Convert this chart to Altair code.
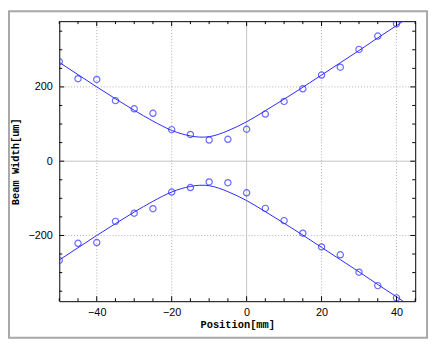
import altair as alt
import pandas as pd

# ---- data ----
positions = [-50, -45, -40, -35, -30, -25, -20, -15, -10, -5, 0, 5, 10, 15, 20, 25, 30, 35, 40, 45]
upper_width = [268, 222, 220, 163, 141, 129, 85, 72, 57, 59, 86, 127, 161, 195, 232, 253, 301, 337, 370, 385]
lower_width = [-267, -221, -219, -162, -140, -128, -83, -71, -56, -58, -85, -127, -160, -194, -231, -252, -299, -335, -368, -385]

fit_positions = [-50, -45, -40, -35, -30, -25, -20, -15, -10, -5, 0, 5, 10, 15, 20, 25, 30, 35, 40, 45]
fit_upper = [266, 233, 200, 168, 137, 108, 83, 68, 66, 82, 106, 136, 167, 199, 232, 265, 298, 332, 365, 399]
fit_lower = [-v for v in fit_upper]

x_tick_labels = [-40, -20, 0, 20, 40]
y_tick_labels = [-200, 0, 200]
x_grid = [-40, -20, 20, 40]
y_grid = [-200, 200]
x_minor = [-50, -45, -35, -30, -25, -15, -10, -5, 5, 10, 15, 25, 30, 35, 45]
y_minor = [-350, -300, -250, -150, -100, -50, 50, 100, 150, 250, 300, 350]

X_DOMAIN = [-50, 45]
Y_DOMAIN = [-377, 377]
W, H = 361, 284
BLUE = "#2a2aff"

pts = pd.DataFrame({
    "pos": positions * 2,
    "w": upper_width + lower_width,
    "s": ["u"] * len(positions) + ["l"] * len(positions),
})
fit = pd.DataFrame({
    "pos": fit_positions * 2,
    "w": fit_upper + fit_lower,
    "s": ["u"] * len(fit_positions) + ["l"] * len(fit_positions),
})

xs = alt.Scale(domain=X_DOMAIN, nice=False, zero=False)
ys = alt.Scale(domain=Y_DOMAIN, nice=False, zero=False)

x_enc = alt.X(
    "pos:Q", scale=xs,
    axis=alt.Axis(values=x_tick_labels, tickSize=0, domain=False, grid=False,
                  labelPadding=5, labelFont="Liberation Sans", labelFontSize=11,
                  labelColor="black", title="Position[mm]", titleFont="Liberation Mono",
                  titleFontSize=10.5, titleFontWeight=600, titleColor="black",
                  titlePadding=3),
)
y_enc = alt.Y(
    "w:Q", scale=ys,
    axis=alt.Axis(values=y_tick_labels, tickSize=0, domain=False, grid=False,
                  labelPadding=7, labelFont="Liberation Sans", labelFontSize=11,
                  labelColor="black", title="Beam Width[um]", titleFont="Liberation Mono",
                  titleFontSize=10.5, titleFontWeight=600, titleColor="black",
                  titlePadding=8),
)

base_pts = alt.Chart(pts)
points = base_pts.mark_point(shape="circle", filled=False, size=40, strokeWidth=1.2,
                             color=BLUE, clip=True).encode(x=x_enc, y=y_enc, detail="s:N")

lines = alt.Chart(fit).mark_line(color=BLUE, strokeWidth=1, interpolate="natural",
                                 clip=True).encode(
    x=alt.X("pos:Q", scale=xs), y=alt.Y("w:Q", scale=ys), detail="s:N")

gx = alt.Chart(pd.DataFrame({"v": x_grid})).mark_rule(
    color="#b0b0b0", strokeDash=[1, 2], strokeWidth=1).encode(x=alt.X("v:Q", scale=xs))
gy = alt.Chart(pd.DataFrame({"v": y_grid})).mark_rule(
    color="#b0b0b0", strokeDash=[1, 2], strokeWidth=1).encode(y=alt.Y("v:Q", scale=ys))
zx = alt.Chart(pd.DataFrame({"v": [0]})).mark_rule(
    color="#c4c4c4", strokeWidth=1).encode(x=alt.X("v:Q", scale=xs))
zy = alt.Chart(pd.DataFrame({"v": [0]})).mark_rule(
    color="#c4c4c4", strokeWidth=1).encode(y=alt.Y("v:Q", scale=ys))


def xticks(vals, a, b):
    return alt.Chart(pd.DataFrame({"v": vals})).mark_rule(color="black", strokeWidth=1).encode(
        x=alt.X("v:Q", scale=xs), y=alt.value(a), y2=alt.value(b))


def yticks(vals, a, b):
    return alt.Chart(pd.DataFrame({"v": vals})).mark_rule(color="black", strokeWidth=1).encode(
        y=alt.Y("v:Q", scale=ys), x=alt.value(a), x2=alt.value(b))


ticks = [
    xticks(x_minor, 0, 3), xticks(x_tick_labels, 0, 5),
    xticks(x_minor, H, H - 3), xticks(x_tick_labels, H, H - 5),
    yticks(y_minor, 0, 3), yticks(y_tick_labels, 0, 5),
    yticks(y_minor, W, W - 3), yticks(y_tick_labels, W, W - 5),
]

frame = alt.Chart(pd.DataFrame({"v": [0]})).mark_rect(
    fill=None, stroke="#a8a8a8", strokeWidth=2, clip=False).encode(
    x=alt.value(-51), x2=alt.value(373), y=alt.value(-10), y2=alt.value(321))

chart = alt.layer(frame, gx, gy, zx, zy, lines, points, *ticks).properties(
    width=W, height=H, autosize=alt.AutoSizeParams(type="none"),
    padding={"left": 52, "top": 11, "right": 16, "bottom": 38},
    background="white",
).configure_view(stroke="black", strokeWidth=1)

chart.save("out.html", embed_options={"renderer": "svg", "actions": False})
